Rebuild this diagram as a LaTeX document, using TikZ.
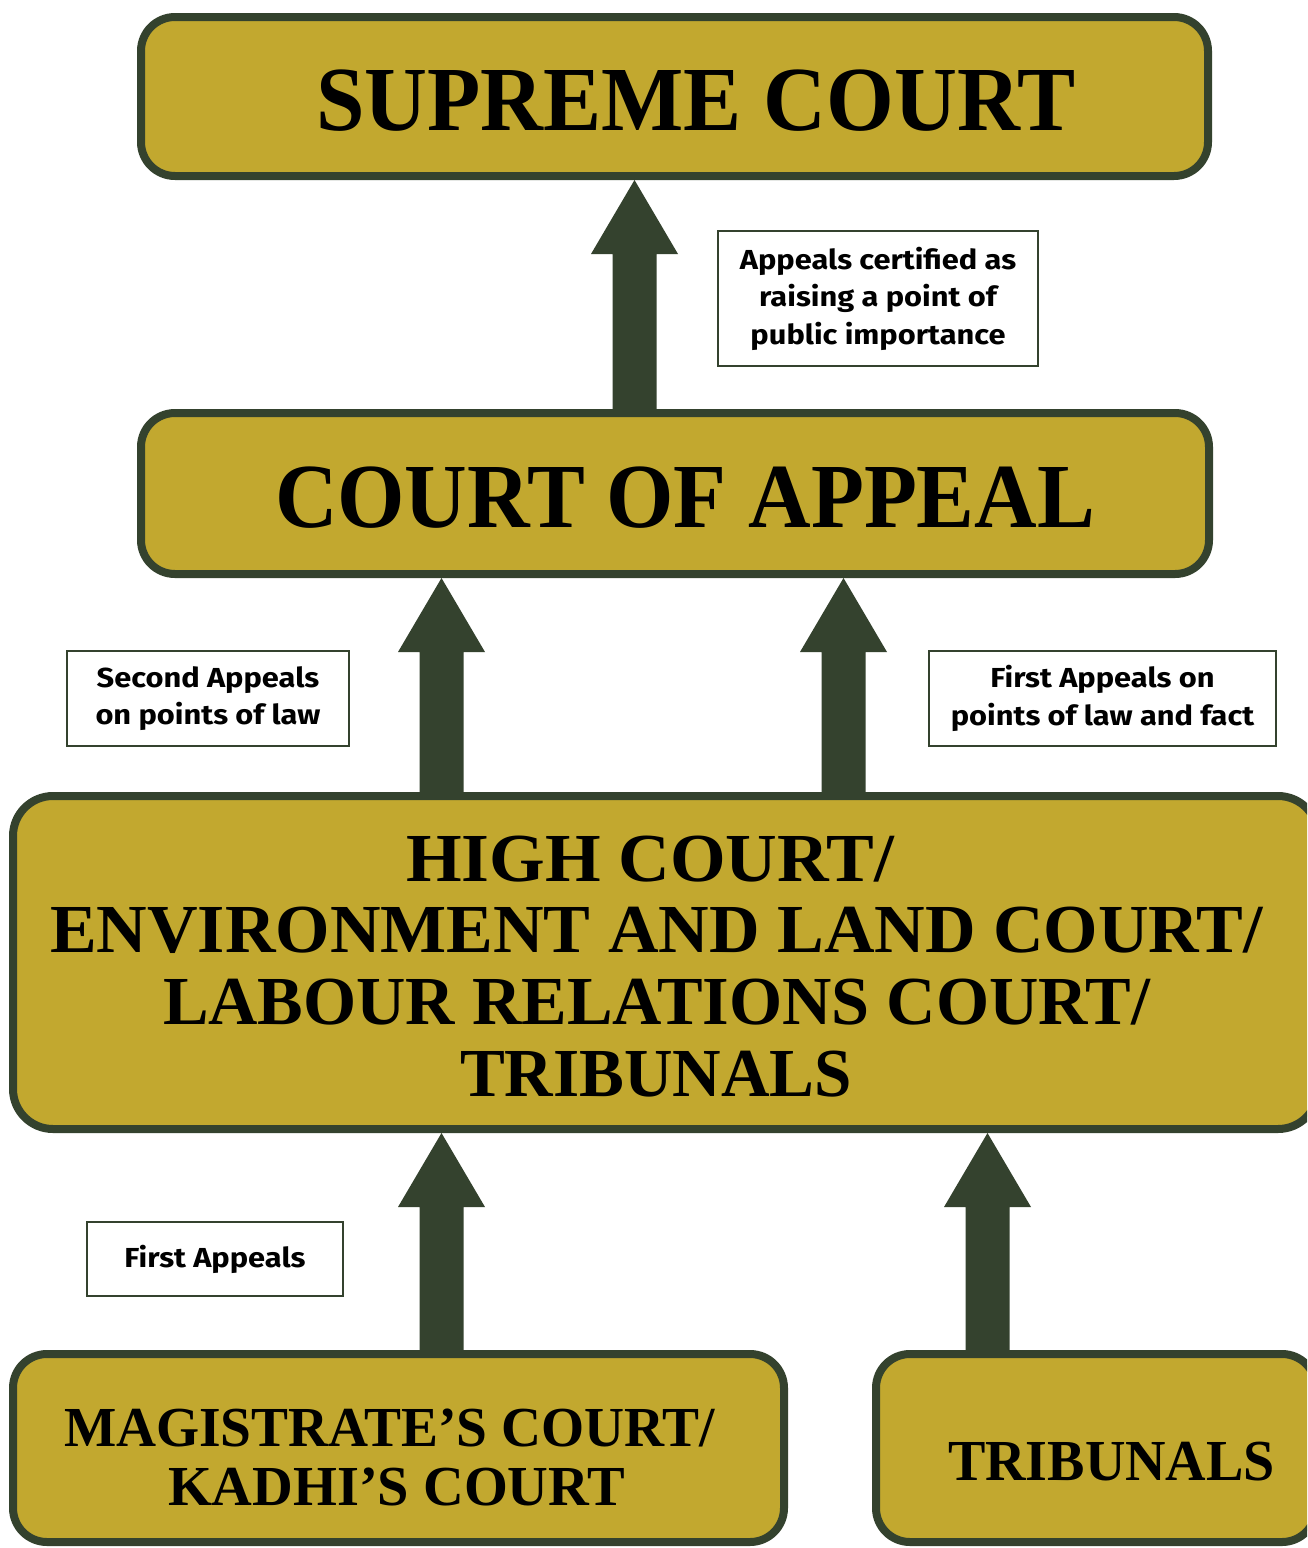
\documentclass[tikz,border=0pt]{standalone}
\usepackage{fontspec}
\setmainfont{Liberation Serif}
\newfontfamily\lblfont{Fira Sans}[FakeStretch=1.12]
\usetikzlibrary{calc}
\definecolor{gold}{RGB}{194,168,47}
\definecolor{dkgreen}{RGB}{52,66,46}
\newcommand\fitttl[3]{\resizebox{#1pt}{#2pt}{\bfseries\raisebox{0pt}[\fontcharht\font`H][0pt]{#3}}}
\newcommand\uparr[3]{%
  \fill[dkgreen] let \p1=(#2.north), \p2=(#3.south) in
    (#1pt-22pt,\y1+4pt) -- (#1pt-22pt,\y2-78pt) -- (#1pt-43.5pt,\y2-78pt) --
    (#1pt,\y2-4pt) -- (#1pt+43.5pt,\y2-78pt) -- (#1pt+22pt,\y2-78pt) --
    (#1pt+22pt,\y1+4pt) -- cycle;}
\tikzset{
  court/.style={draw=dkgreen, fill=gold, line width=8pt, rounded corners=34pt, inner sep=0pt, outer sep=0pt},
  lbl/.style={draw=dkgreen, fill=white, line width=2.5pt, inner sep=0pt, outer sep=0pt, align=center,
    font=\lblfont\bfseries\fontsize{27.5}{37.5}\selectfont},
  ttl/.style={inner sep=0pt, outer sep=0pt, anchor=base west}
}
\begin{document}
\begin{tikzpicture}[x=1pt,y=-1pt]
\useasboundingbox (0,0) rectangle (1307,1548);
\fill[white] (0,0) rectangle (1307,1548);
\clip (0,0) rectangle (1307,1548);
% court boxes
\node[court, minimum width=1067pt, minimum height=159pt] (sc) at (674.5,96.5) {};
\node[court, minimum width=1068pt, minimum height=161pt] (ca) at (675,493.5) {};
\node[court, rounded corners=40pt, minimum width=1305pt, minimum height=333pt] (hc) at (665.5,962.5) {};
\node[court, minimum width=771pt, minimum height=188pt] (mc) at (398.5,1448) {};
\node[court, minimum width=440pt, minimum height=188pt] (tr) at (1096,1448) {};
% titles
\node[ttl] (t1) at (316,130) {\fitttl{759}{60}{SUPREME COURT}};
\node[ttl] (t2) at (275,527) {\fitttl{820}{60}{COURT OF APPEAL}};
\node[ttl] (t3a) at (406,881) {\fitttl{488}{45}{HIGH COURT/}};
\node[ttl] (t3b) at (50,952) {\fitttl{1213}{45}{ENVIRONMENT AND LAND COURT/}};
\node[ttl] (t3c) at (163,1024) {\fitttl{987}{45}{LABOUR RELATIONS COURT/}};
\node[ttl] (t3d) at (460,1096) {\fitttl{392}{45}{TRIBUNALS}};
\node[ttl] (t4a) at (64,1446) {\fitttl{651}{37}{MAGISTRATE’S COURT/}};
\node[ttl] (t4b) at (168,1505) {\fitttl{457}{37}{KADHI’S COURT}};
\node[ttl] (t5) at (948,1480) {\fitttl{327}{38}{TRIBUNALS}};
% arrows
\uparr{634.5}{ca}{sc}
\uparr{441.5}{hc}{ca}
\uparr{843.5}{hc}{ca}
\uparr{441.5}{mc}{hc}
\uparr{987.5}{tr}{hc}
% labels
\node[lbl, minimum width=320pt, minimum height=135pt] (l1) at (878,298.5) {Appeals certified as\\raising a point of\\public importance};
\node[lbl, minimum width=282pt, minimum height=95pt] (l2) at (208,698.5) {Second Appeals\\on points of law};
\node[lbl, minimum width=347pt, minimum height=95pt] (l3) at (1102.5,698.5) {First Appeals on\\points of law and fact};
\node[lbl, minimum width=256pt, minimum height=74pt] (l4) at (215,1259) {First Appeals};
\end{tikzpicture}
\end{document}
